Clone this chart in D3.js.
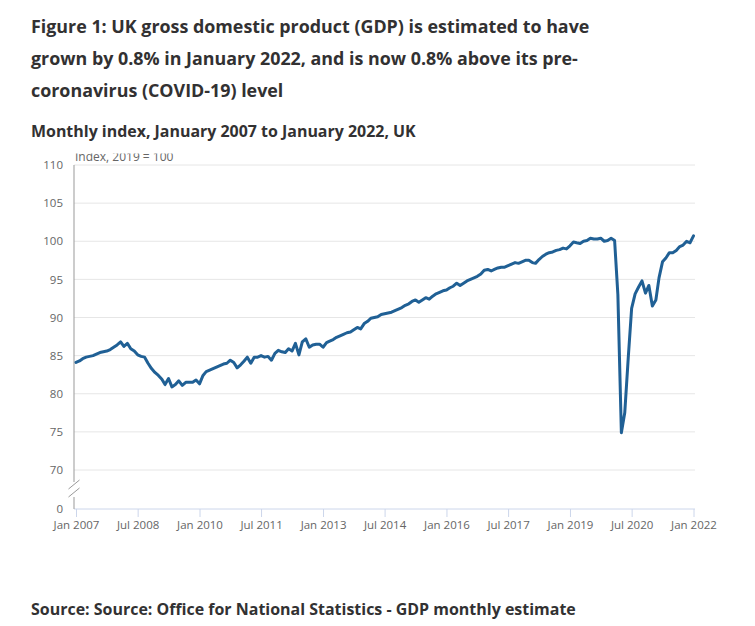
<!DOCTYPE html>
<html>
<head>
<meta charset="utf-8">
<script src="https://cdn.jsdelivr.net/npm/d3@7"></script>
<style>
  html, body { margin: 0; padding: 0; background: #fff; }
  svg { display: block; font-family: "Open Sans", "Noto Sans", sans-serif; }
</style>
</head>
<body>
<svg id="chart" width="755" height="626"></svg>
<script>
// ---- Data ----
const titleLines = [
  "Figure 1: UK gross domestic product (GDP) is estimated to have",
  "grown by 0.8% in January 2022, and is now 0.8% above its pre-",
  "coronavirus (COVID-19) level"
];
const subtitle = "Monthly index, January 2007 to January 2022, UK";
const yAxisLabel = "Index, 2019 = 100";
const sourceText = "Source: Source: Office for National Statistics - GDP monthly estimate";

const startMonth = "Jan 2007";
// Monthly GDP index (2019 = 100), Jan 2007 .. Jan 2022
const gdpIndex = [
  84.1, 84.3, 84.6, 84.8, 84.9, 85.0, 85.2, 85.4, 85.5, 85.6, 85.8, 86.1, // 2007
  86.4, 86.8, 86.2, 86.6, 85.9, 85.6, 85.1, 84.9, 84.8, 84.0, 83.3, 82.8, // 2008
  82.4, 81.9, 81.2, 82.0, 80.9, 81.2, 81.7, 81.1, 81.5, 81.5, 81.5, 81.8, // 2009
  81.3, 82.4, 82.9, 83.1, 83.3, 83.5, 83.7, 83.9, 84.0, 84.4, 84.1, 83.4, // 2010
  83.8, 84.3, 84.8, 84.0, 84.8, 84.8, 85.0, 84.8, 84.9, 84.4, 85.3, 85.7, // 2011
  85.5, 85.4, 85.9, 85.6, 86.6, 85.1, 86.8, 87.2, 86.1, 86.4, 86.5, 86.5, // 2012
  86.1, 86.7, 86.9, 87.1, 87.4, 87.6, 87.8, 88.0, 88.1, 88.4, 88.7, 88.5, // 2013
  89.2, 89.5, 89.9, 90.0, 90.1, 90.4, 90.5, 90.6, 90.7, 90.9, 91.1, 91.3, // 2014
  91.6, 91.8, 92.1, 92.3, 92.0, 92.3, 92.6, 92.4, 92.8, 93.1, 93.3, 93.5, // 2015
  93.6, 93.9, 94.1, 94.5, 94.2, 94.5, 94.8, 95.0, 95.2, 95.4, 95.7, 96.2, // 2016
  96.3, 96.1, 96.3, 96.5, 96.6, 96.6, 96.8, 97.0, 97.2, 97.1, 97.3, 97.5, // 2017
  97.5, 97.2, 97.1, 97.6, 98.0, 98.3, 98.5, 98.6, 98.8, 98.9, 99.1, 99.0, // 2018
  99.4, 99.9, 99.8, 99.7, 100.0, 100.1, 100.4, 100.3, 100.3, 100.4, 100.0, 100.1, // 2019
  100.4, 100.1, 93.0, 74.9, 77.5, 84.7, 91.2, 93.1, 94.0, 94.8, 93.2, 94.2, // 2020
  91.5, 92.3, 95.2, 97.3, 97.8, 98.5, 98.5, 98.8, 99.3, 99.5, 100.0, 99.8, // 2021
  100.7 // Jan 2022
];

const xTickLabels = ["Jan 2007","Jul 2008","Jan 2010","Jul 2011","Jan 2013","Jul 2014",
                     "Jan 2016","Jul 2017","Jan 2019","Jul 2020","Jan 2022"];
const yTickValues = [0, 70, 75, 80, 85, 90, 95, 100, 105, 110];
const yGridValues = [70, 75, 80, 85, 90, 95, 100, 105, 110];

// ---- Build ----
const parse = d3.timeParse("%b %Y");
const start = parse(startMonth);
const series = gdpIndex.map((v, i) => ({ date: d3.timeMonth.offset(start, i), value: v }));

const svg = d3.select("#chart");
svg.append("rect").attr("width", 755).attr("height", 626).attr("fill", "#fff");

const plotLeft = 74, plotRight = 695;
const x = d3.scaleTime()
  .domain([start, series[series.length - 1].date])
  .range([76, 693.5]);
const y = d3.scaleLinear().domain([0, 70, 110]).range([509, 470, 165]);

// Titles: size chosen so each line spans the same width as in the reference
const textColor = "#323132";
function fitSize(sel, target) {
  const fs = +sel.attr("font-size");
  const w = sel.node().getComputedTextLength();
  sel.attr("font-size", (fs * target / w).toFixed(2));
}
const titleBase = [33, 65, 97];
const titleSel = titleLines.map((t, i) => svg.append("text").attr("x", 31).attr("y", titleBase[i])
    .attr("font-size", 19).attr("font-weight", 700).attr("fill", textColor).text(t));
fitSize(titleSel[0], 559);
const tfs = titleSel[0].attr("font-size");
titleSel.forEach(s => s.attr("font-size", tfs));

const sub = svg.append("text").attr("x", 31).attr("y", 137)
  .attr("font-size", 16).attr("font-weight", 700).attr("fill", textColor).text(subtitle);
fitSize(sub, 385);
const src = svg.append("text").attr("x", 31).attr("y", 615)
  .attr("font-size", 16).attr("font-weight", 700).attr("fill", textColor).text(sourceText);
fitSize(src, 545);

// Gridlines
svg.append("g").selectAll("line").data(yGridValues).join("line")
  .attr("x1", plotLeft).attr("x2", plotRight)
  .attr("y1", d => y(d)).attr("y2", d => y(d))
  .attr("stroke", "#e6e6e6").attr("stroke-width", 1);

// X axis
const xAxis = d3.axisBottom(x)
  .tickValues(xTickLabels.map(parse))
  .tickFormat(d3.timeFormat("%b %Y"))
  .tickSize(8).tickPadding(4);
const gx = svg.append("g").attr("transform", `translate(0,${y(0)})`).call(xAxis);
gx.select(".domain").remove();
gx.selectAll(".tick line").attr("stroke", "#ccd6eb");
gx.selectAll(".tick text").attr("fill", "#666").attr("font-size", 11.5)
  .attr("font-family", "'Open Sans', sans-serif");
svg.append("line").attr("x1", plotLeft).attr("x2", plotRight)
  .attr("y1", y(0)).attr("y2", y(0)).attr("stroke", "#ccd6eb");

// Y axis
const yAxis = d3.axisLeft(y).tickValues(yTickValues).tickSize(0).tickPadding(11);
const gy = svg.append("g").attr("transform", `translate(${plotLeft},0)`).call(yAxis);
gy.select(".domain").remove();
gy.selectAll(".tick text").attr("fill", "#666").attr("font-size", 11.5)
  .attr("font-family", "'Open Sans', sans-serif");
// Axis line with break
const axisColor = "#999";
svg.append("line").attr("x1", plotLeft).attr("x2", plotLeft)
  .attr("y1", y(110)).attr("y2", y(70) + 12).attr("stroke", axisColor);
svg.append("line").attr("x1", plotLeft).attr("x2", plotLeft)
  .attr("y1", y(70) + 27).attr("y2", y(0)).attr("stroke", axisColor);
[0, 8].forEach(off => {
  svg.append("line")
    .attr("x1", plotLeft - 5.5).attr("y1", y(70) + 19 + off)
    .attr("x2", plotLeft + 5.5).attr("y2", y(70) + 10 + off)
    .attr("stroke", axisColor).attr("stroke-width", 1);
});

// Y axis label (clipped at top like the reference)
svg.append("clipPath").attr("id", "lblclip")
  .append("rect").attr("x", 60).attr("y", 153.5).attr("width", 200).attr("height", 20);
svg.append("text").attr("x", 75).attr("y", 161)
  .attr("font-size", 12).attr("fill", "#666")
  .attr("clip-path", "url(#lblclip)").text(yAxisLabel);

// Line
const line = d3.line().x(d => x(d.date)).y(d => y(d.value));
svg.append("path").datum(series)
  .attr("d", line).attr("fill", "none")
  .attr("stroke", "#206095").attr("stroke-width", 3)
  .attr("stroke-linejoin", "round").attr("stroke-linecap", "round");
</script>
</body>
</html>
